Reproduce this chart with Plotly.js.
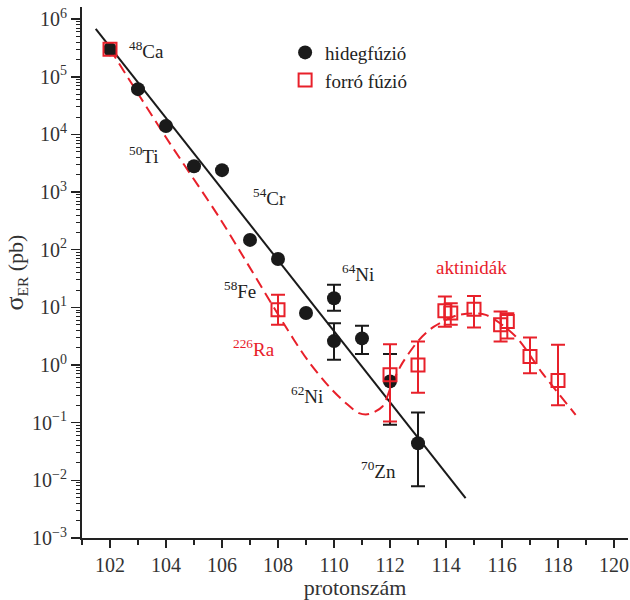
<!DOCTYPE html>
<html>
<head>
<meta charset="utf-8">
<script src="https://cdn.plot.ly/plotly-3.0.1.min.js"></script>
<style>html,body{margin:0;padding:0;background:#fff}#chart{width:630px;height:600px}</style>
</head>
<body>
<div id="chart"></div>
<script>
// Cold fusion (hidegfúzió)
const coldZ = [102, 103, 104, 105, 106, 107, 108, 109, 110, 110, 111, 112, 113];
const coldSigma = [3e5, 6.1e4, 1.4e4, 2.8e3, 2.4e3, 148, 69, 8, 14.4, 2.6, 2.9, 0.52, 0.044];
const coldHigh = [null, null, null, null, null, null, null, null, 24.6, 5.3, 4.8, 1.55, 0.15];
const coldLow = [null, null, null, null, null, null, null, null, 8.7, 1.23, 1.55, 0.092, 0.0079];

// Hot fusion (forró fúzió)
const hotZ = [102, 108, 112, 113, 113.96, 114.17, 115, 115.95, 116.19, 117, 118];
const hotSigma = [3e5, 9.1, 0.68, 1.0, 8.7, 8.0, 9.3, 5.0, 5.7, 1.4, 0.54];
const hotHigh = [null, 16.5, 2.3, 2.55, 15.4, 11.8, 15.8, 8.5, 7.9, 3.0, 2.24];
const hotLow = [null, 4.98, 0.105, 0.33, 4.6, 5.0, 4.5, 2.55, 2.9, 0.72, 0.2];

// Cold fusion systematics (straight line)
const coldFitZ = [101.49, 114.70];
const coldFitSigma = [6.8e5, 0.0049];

// Hot fusion trend (dashed curve), log10 of sigma
const hotFitZ = [102, 103.99, 105.89, 106.61, 108.27, 109.05, 109.82, 110.42, 110.89, 111.25, 111.73, 112.08, 112.44, 113.04, 113.57, 114.46, 115.42, 116.49, 117.44, 118.63];
const hotFitLog = [5.48, 3.955, 2.57, 2.0, 0.667, 0.09, -0.372, -0.66, -0.833, -0.851, -0.719, -0.314, 0.033, 0.437, 0.667, 0.87, 0.87, 0.494, -0.14, -0.863];

const yTickVals = [1e-3, 1e-2, 1e-1, 1e0, 1e1, 1e2, 1e3, 1e4, 1e5, 1e6];
const yTickText = ['10<sup>−3</sup>', '10<sup>−2</sup>', '10<sup>−1</sup>', '10<sup>0</sup>', '10<sup>1</sup>', '10<sup>2</sup>', '10<sup>3</sup>', '10<sup>4</sup>', '10<sup>5</sup>', '10<sup>6</sup>'];
const xTickVals = [102, 104, 106, 108, 110, 112, 114, 116, 118, 120];

const RED = '#e8202a';
const BLACK = '#1a1a1a';
const FONT = 'Liberation Serif, Times New Roman, serif';

function errs(vals, hi, lo) {
  return {
    up: vals.map((v, i) => hi[i] == null ? NaN : hi[i] - v),
    down: vals.map((v, i) => lo[i] == null ? NaN : v - lo[i])
  };
}
const ce = errs(coldSigma, coldHigh, coldLow);
const he = errs(hotSigma, hotHigh, hotLow);

const minorVals = [];
for (let e = -3; e < 7; e++) for (let m = 2; m <= 9; m++) minorVals.push(m * Math.pow(10, e));

const traces = [
  {x: coldFitZ, y: coldFitSigma, mode: 'lines', line: {color: BLACK, width: 2}, showlegend: false, hoverinfo: 'skip'},
  {x: hotFitZ, y: hotFitLog.map(v => Math.pow(10, v)), mode: 'lines', line: {color: RED, width: 2, dash: '11px,6px', shape: 'spline', smoothing: 0.8}, showlegend: false, hoverinfo: 'skip'},
  {x: coldZ, y: coldSigma, mode: 'markers', name: 'hidegfúzió',
   marker: {symbol: 'circle', size: 14, color: BLACK},
   error_y: {type: 'data', symmetric: false, array: ce.up, arrayminus: ce.down, color: BLACK, thickness: 2, width: 7}},
  {x: hotZ, y: hotSigma, mode: 'markers', name: 'forró fúzió',
   marker: {symbol: 'square-open', size: 13, color: RED, line: {color: RED, width: 2}},
   error_y: {type: 'data', symmetric: false, array: he.up, arrayminus: he.down, color: RED, thickness: 2, width: 7}}
];

function ann(x, logy, text, color) {
  return {x: x, y: logy, xref: 'x', yref: 'y', text: text, showarrow: false, xanchor: 'left', yanchor: 'middle',
          font: {family: FONT, size: 19, color: color || '#222'}};
}

const layout = {
  width: 630, height: 600,
  margin: {l: 82, r: 2, t: 7, b: 62},
  paper_bgcolor: '#fff', plot_bgcolor: '#fff',
  font: {family: FONT, size: 19, color: '#333'},
  showlegend: true,
  legend: {x: 0.372, y: 0.95, xanchor: 'left', yanchor: 'top', bgcolor: 'rgba(0,0,0,0)', font: {family: FONT, size: 19, color: '#222'}, tracegroupgap: 0},
  xaxis: {
    range: [101, 120.5], tickmode: 'array', tickvals: xTickVals,
    showgrid: false, zeroline: false, showline: true, linecolor: '#222', linewidth: 2,
    ticks: 'outside', ticklen: 8, tickwidth: 1.5, tickcolor: '#222',
    minor: {tickmode: 'array', tickvals: [101, 103, 105, 107, 109, 111, 113, 115, 117, 119], ticks: 'outside', ticklen: 5, tickwidth: 1.5, tickcolor: '#222'},
    tickfont: {family: FONT, size: 20, color: '#333'},
    title: {text: 'protonszám', font: {family: FONT, size: 22, color: '#333'}, standoff: 4}
  },
  yaxis: {
    type: 'log', range: [-3, 6.21], tickmode: 'array', tickvals: yTickVals, ticktext: yTickText,
    showgrid: false, zeroline: false, showline: true, linecolor: '#222', linewidth: 2,
    ticks: 'outside', ticklen: 9, tickwidth: 1.5, tickcolor: '#222',
    minor: {tickmode: 'array', tickvals: minorVals, ticks: 'outside', ticklen: 4, tickwidth: 1, tickcolor: '#222'},
    tickfont: {family: FONT, size: 20, color: '#333'},
    title: {text: '<span style="font-size:26px">σ</span><sub>ER</sub> (pb)', font: {family: FONT, size: 22, color: '#333'}, standoff: 4}
  },
  annotations: [
    ann(102.6, 5.46, '<sup>48</sup>Ca'),
    ann(102.6, 3.64, '<sup>50</sup>Ti'),
    ann(107.04, 2.915, '<sup>54</sup>Cr'),
    ann(110.2, 1.6, '<sup>64</sup>Ni'),
    ann(106.0, 1.30, '<sup>58</sup>Fe'),
    ann(106.31, 0.298, '<sup>226</sup>Ra', RED),
    ann(108.39, -0.516, '<sup>62</sup>Ni'),
    ann(110.89, -1.816, '<sup>70</sup>Zn'),
    ann(113.57, 1.685, 'aktinidák', RED)
  ]
};

Plotly.newPlot('chart', traces, layout, {displayModeBar: false, staticPlot: true});
</script>
</body>
</html>
